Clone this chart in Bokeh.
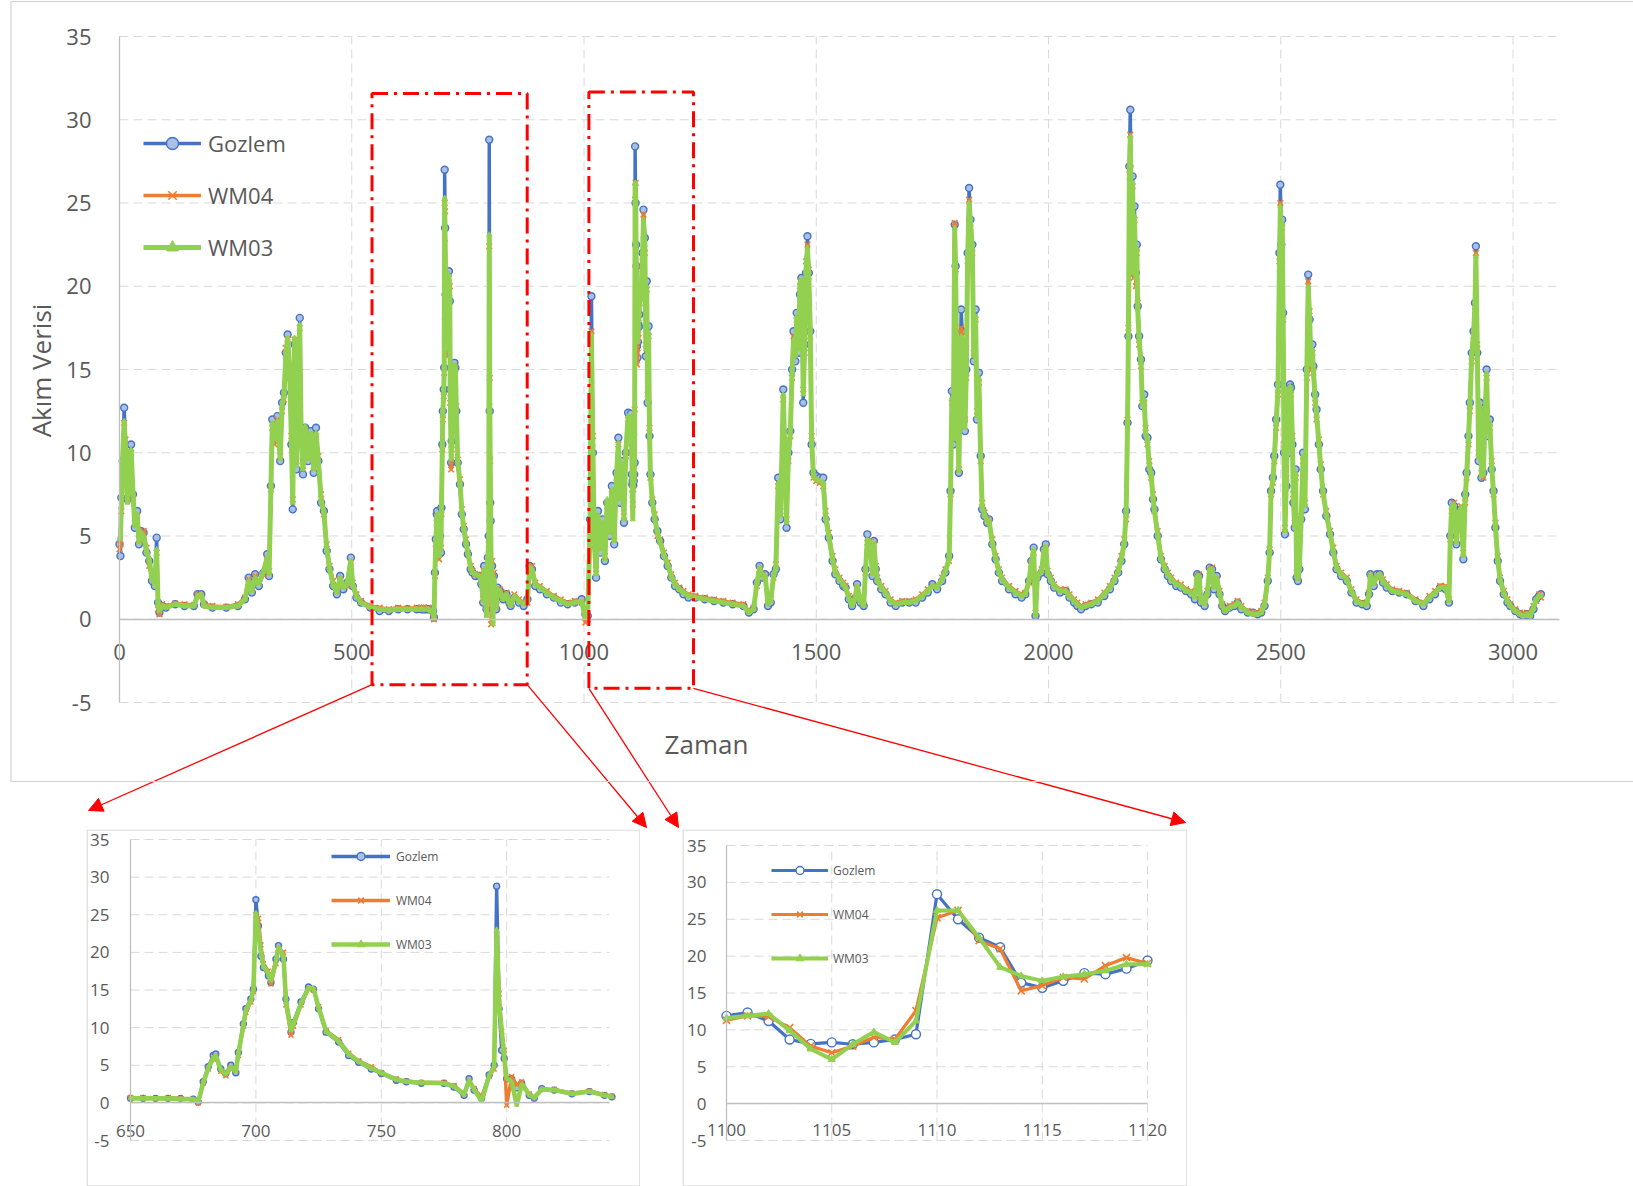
import math
from bokeh.plotting import figure
from bokeh.models import (Range1d, FixedTicker, Legend, LegendItem, Label, Arrow,
                          NormalHead, BoxAnnotation, PolyAnnotation, Spacer)
from bokeh.layouts import column, row
from bokeh.embed import file_html
from bokeh.resources import INLINE

# ---------------- data: main chart, segment 0-640 ----------------
seg1_x = [0, 2, 4, 7, 10, 13, 17, 21, 25, 29, 33, 38, 42, 46, 52, 58, 64, 70, 76, 80,
          83, 86, 92, 100, 120, 140, 160, 168, 176, 182, 200, 230, 255, 270, 278, 285, 292, 300, 310, 318,
          322, 326, 329, 334, 340, 346, 350, 354, 358, 362, 366, 370, 373, 377, 381, 385, 388, 391, 395, 400,
          406, 412, 418, 423, 428, 434, 440, 446, 452, 460, 468, 475, 482, 490, 498, 502, 510, 520, 540, 560,
          580, 600, 620, 640]
seg1_gozlem = [4.5, 3.8, 7.3, 9.5, 12.7, 10.5, 7.2, 9.8, 10.5, 7.5, 5.5, 6.5, 4.5, 5.3, 5.2, 4.0, 3.5, 2.3, 2.0, 4.9,
               1.0, 0.4, 0.8, 0.7, 0.9, 0.8, 0.8, 1.5, 1.5, 0.9, 0.7, 0.7, 0.8, 1.2, 2.5, 1.6, 2.7, 2.0, 2.8, 3.9,
               2.6, 8.0, 12.0, 11.0, 12.2, 9.5, 13.0, 13.6, 16.0, 17.1, 15.0, 10.5, 6.6, 16.5, 9.0, 14.5, 18.1, 11.0, 8.7, 11.5,
               9.5, 11.3, 8.8, 11.5, 9.5, 7.0, 6.5, 4.1, 3.0, 2.0, 1.5, 2.6, 1.8, 2.2, 3.7, 2.0, 1.3, 1.0, 0.7, 0.5,
               0.5, 0.6, 0.6, 0.6]
seg1_wm04 = [4.2, 4.5, 6.5, 9.0, 11.8, 10.8, 7.5, 9.2, 10.0, 7.3, 5.8, 6.2, 4.8, 5.0, 5.3, 4.3, 3.2, 2.6, 2.2, 4.0,
             0.6, 0.3, 0.9, 0.8, 0.95, 0.9, 0.85, 1.5, 1.4, 0.9, 0.8, 0.75, 0.9, 1.3, 2.4, 1.8, 2.6, 2.2, 2.7, 3.6,
             2.9, 7.8, 11.5, 10.5, 12.0, 9.8, 12.5, 13.2, 16.3, 16.8, 14.5, 11.0, 7.2, 16.8, 9.5, 15.0, 17.5, 11.5, 9.2, 11.3,
             10.0, 11.0, 9.2, 11.0, 9.8, 7.5, 6.3, 4.5, 3.2, 2.3, 1.7, 2.4, 2.0, 2.0, 3.4, 2.2, 1.5, 1.1, 0.8, 0.7,
             0.6, 0.7, 0.65, 0.7]
seg1_wm03 = [4.8, 5.0, 6.8, 9.8, 11.9, 10.3, 7.0, 9.6, 10.2, 7.6, 5.6, 6.3, 4.6, 5.2, 5.0, 4.1, 3.6, 2.4, 2.1, 4.2,
             0.9, 0.5, 0.8, 0.7, 0.9, 0.8, 0.8, 1.4, 1.5, 0.8, 0.7, 0.7, 0.8, 1.2, 2.3, 1.7, 2.5, 2.1, 2.9, 3.7,
             2.7, 7.9, 11.8, 10.8, 11.9, 9.6, 12.8, 13.4, 15.8, 16.9, 15.2, 10.8, 7.0, 16.9, 9.2, 14.8, 17.7, 11.2, 9.0, 11.6,
             9.6, 11.2, 9.0, 11.2, 9.6, 7.2, 6.4, 4.3, 3.1, 2.1, 1.6, 2.5, 1.9, 2.1, 3.5, 2.1, 1.4, 1.0, 0.7, 0.6,
             0.55, 0.6, 0.6, 0.6]

# ---------------- data: zoom window 650-842 (inset 1) ----------------
inset1_x = [650, 655, 660, 665, 670, 675, 677, 679, 681, 683, 684, 686, 688, 690, 692, 693, 695, 696, 698, 699,
            700, 701, 702, 703, 705, 706, 708, 709, 711, 712, 714, 715, 718, 721, 723, 725, 728, 733, 737, 741,
            746, 750, 756, 760, 766, 775, 779, 783, 785, 787, 790, 793, 795, 796, 797, 798, 799, 800, 802, 804,
            806, 809, 811, 814, 819, 826, 833, 839, 842]
inset1_gozlem = [0.6, 0.6, 0.6, 0.6, 0.6, 0.5, 0.1, 2.8, 4.8, 6.3, 6.5, 4.5, 3.9, 5.0, 4.0, 6.7, 10.5, 12.5, 13.8, 15.1,
                 27.0, 23.5, 19.5, 18.0, 16.9, 16.0, 19.1, 20.9, 19.1, 13.8, 9.4, 10.7, 13.4, 15.4, 15.1, 12.5, 9.4, 8.1, 6.3, 5.4,
                 4.5, 3.9, 3.0, 2.8, 2.6, 2.6, 2.1, 1.0, 3.2, 1.7, 0.6, 3.7, 5.0, 28.8, 12.5, 7.0, 5.9, 3.2, 3.2, 2.0,
                 2.6, 1.0, 0.6, 1.9, 1.7, 1.2, 1.5, 1.0, 0.8]
inset1_wm04 = [0.7, 0.7, 0.6, 0.7, 0.6, 0.4, 0.0, 2.6, 4.5, 5.8, 6.2, 4.2, 3.6, 4.6, 4.3, 6.3, 10.2, 12.0, 13.4, 14.8,
               25.0, 24.5, 21.0, 18.5, 17.5, 15.8, 18.5, 20.5, 20.0, 13.0, 9.0, 10.2, 13.0, 15.2, 15.0, 12.8, 9.6, 8.4, 6.6, 5.6,
               4.8, 4.0, 3.2, 2.9, 2.7, 2.7, 2.3, 1.2, 2.9, 1.9, 0.8, 3.5, 4.5, 22.4, 14.5, 9.5, 7.0, -0.3, 3.5, 2.4,
               2.8, 1.2, 0.7, 1.8, 1.8, 1.3, 1.6, 1.1, 0.9]
inset1_wm03 = [0.6, 0.6, 0.6, 0.6, 0.5, 0.5, 0.1, 2.7, 4.6, 6.0, 6.3, 4.4, 3.8, 4.8, 4.2, 6.5, 10.3, 12.3, 13.6, 15.0,
               25.3, 22.8, 20.0, 18.2, 17.2, 16.2, 18.8, 20.7, 19.5, 13.5, 9.6, 10.5, 13.2, 15.3, 15.2, 12.7, 9.5, 8.2, 6.5, 5.5,
               4.6, 4.0, 3.1, 2.8, 2.7, 2.6, 2.2, 1.1, 3.0, 1.8, 0.2, 3.6, 4.8, 23.1, 13.0, 9.8, 6.0, 3.3, 2.8, -0.3,
               2.5, 1.1, 0.7, 1.8, 1.7, 1.2, 1.5, 1.0, 0.8]

# ---------------- data: main chart, segment 850-1095 ----------------
seg2_x = [850, 860, 870, 878, 883, 888, 895, 905, 920, 935, 950, 965, 980, 995, 1003, 1008, 1013, 1016, 1019, 1022,
          1026, 1030, 1035, 1040, 1045, 1050, 1055, 1060, 1065, 1070, 1074, 1078, 1082, 1086, 1090, 1095]
seg2_gozlem = [1.3, 1.0, 0.8, 1.2, 3.2, 3.0, 2.0, 1.8, 1.5, 1.3, 1.0, 0.9, 1.0, 1.2, 0.3, 0.2, 6.0, 19.4, 10.0, 4.5,
               2.5, 6.5, 4.0, 6.0, 3.5, 7.0, 5.0, 8.0, 4.5, 8.8, 10.9, 7.0, 9.5, 5.8, 10.0, 12.4]
seg2_wm04 = [1.5, 1.2, 1.0, 1.0, 3.0, 3.2, 2.2, 2.0, 1.7, 1.4, 1.2, 1.0, 1.1, 1.0, -0.2, 0.0, 5.0, 17.3, 11.0, 5.0,
             3.0, 6.0, 4.5, 5.5, 3.8, 6.8, 5.5, 7.5, 5.0, 8.5, 10.5, 7.5, 9.0, 6.2, 9.8, 12.0]
seg2_wm03 = [1.4, 1.1, 0.9, 1.1, 3.1, 3.0, 2.1, 1.9, 1.6, 1.3, 1.1, 0.9, 1.0, 1.1, 0.1, 0.3, 5.5, 17.1, 10.5, 4.8,
             2.7, 6.3, 4.2, 5.8, 3.6, 7.2, 5.2, 7.8, 4.7, 8.6, 10.6, 7.2, 9.3, 6.0, 10.1, 12.2]

# ---------------- data: zoom window 1100-1120 (inset 2) ----------------
inset2_x = [1100, 1101, 1102, 1103, 1104, 1105, 1106, 1107, 1108, 1109, 1110,
            1111, 1112, 1113, 1114, 1115, 1116, 1117, 1118, 1119, 1120]
inset2_gozlem = [11.9, 12.35, 11.2, 8.7, 8.1, 8.3, 8.05, 8.3, 8.7, 9.4, 28.4,
                 25.0, 22.5, 21.2, 16.4, 15.7, 16.65, 17.7, 17.55, 18.3, 19.4]
inset2_wm04 = [11.3, 11.9, 11.8, 10.3, 7.8, 6.9, 7.8, 9.0, 8.7, 12.6, 25.2,
               26.2, 22.1, 21.0, 15.3, 16.0, 17.1, 16.9, 18.7, 19.8, 19.0]
inset2_wm03 = [11.6, 11.9, 12.2, 9.9, 7.4, 6.0, 8.05, 9.7, 8.3, 11.2, 26.2,
               26.2, 22.5, 18.5, 17.3, 16.65, 17.2, 17.55, 18.0, 18.9, 18.9]

# ---------------- data: main chart, segment 1123-3060 ----------------
seg3_x = [1123, 1126, 1128, 1131, 1133, 1135, 1137, 1139, 1141, 1143,
          1147, 1152, 1158, 1164, 1172, 1180, 1188, 1196, 1205, 1214,
          1225, 1240, 1260, 1280, 1300, 1320, 1343, 1355, 1365, 1372,
          1378, 1384, 1390, 1396, 1402, 1408, 1413, 1418, 1423, 1429,
          1433, 1436, 1440, 1444, 1448, 1451, 1455, 1458, 1462, 1465,
          1468, 1472, 1475, 1478, 1481, 1484, 1487, 1490, 1494, 1500,
          1508, 1515, 1520, 1527, 1535, 1541, 1550, 1558, 1563, 1570,
          1577, 1583, 1588, 1595, 1602, 1606, 1610, 1616, 1621, 1624,
          1628, 1631, 1640, 1649, 1660, 1671, 1685, 1700, 1714, 1728,
          1740, 1750, 1760, 1771, 1778, 1786, 1789, 1792, 1795, 1798,
          1800, 1803, 1807, 1810, 1812, 1814, 1817, 1820, 1823, 1826,
          1829, 1832, 1836, 1839, 1843, 1846, 1850, 1854, 1857, 1862,
          1868, 1872, 1879, 1886, 1893, 1900, 1915, 1929, 1942, 1950,
          1958, 1963, 1968, 1972, 1976, 1985, 1990, 1994, 1998, 2005,
          2012, 2025, 2037, 2045, 2055, 2062, 2070, 2080, 2092, 2106,
          2120, 2132, 2142, 2150, 2157, 2163, 2167, 2170, 2172, 2174,
          2176, 2178, 2181, 2183, 2185, 2188, 2190, 2192, 2195, 2199,
          2202, 2206, 2209, 2213, 2217, 2221, 2225, 2228, 2235, 2242,
          2250, 2257, 2264, 2275, 2285, 2296, 2307, 2315, 2320, 2324,
          2328, 2336, 2342, 2347, 2352, 2356, 2362, 2368, 2374, 2380,
          2390, 2400, 2407, 2415, 2429, 2440, 2450, 2458, 2465, 2472,
          2476, 2479, 2483, 2486, 2490, 2494, 2497, 2499, 2501, 2503,
          2505, 2507, 2509, 2512, 2515, 2518, 2520, 2522, 2525, 2527,
          2530, 2532, 2534, 2537, 2540, 2544, 2548, 2552, 2556, 2559,
          2562, 2565, 2568, 2570, 2574, 2577, 2582, 2586, 2591, 2598,
          2606, 2613, 2620, 2630, 2642, 2652, 2663, 2675, 2685, 2690,
          2693, 2700, 2707, 2713, 2720, 2728, 2740, 2755, 2771, 2790,
          2807, 2820, 2832, 2843, 2855, 2862, 2865, 2868, 2873, 2878,
          2883, 2888, 2893, 2897, 2900, 2904, 2907, 2911, 2915, 2918,
          2920, 2923, 2926, 2929, 2932, 2936, 2940, 2943, 2946, 2950,
          2954, 2958, 2962, 2967, 2972, 2980, 2988, 2994, 3005, 3015,
          3022, 3030, 3037, 3044, 3050, 3056, 3060]
seg3_gozlem = [20.0, 22.0, 24.6, 22.9, 15.8, 20.3, 13.0, 17.6, 11.0, 8.7,
               7.0, 6.0, 5.3, 4.7, 3.8, 3.2, 2.5, 2.0, 1.8, 1.5,
               1.3, 1.3, 1.2, 1.1, 1.0, 0.9, 0.8, 0.4, 0.6, 2.2,
               3.2, 2.5, 2.7, 0.8, 1.0, 2.7, 3.0, 8.5, 6.0, 13.8,
               9.0, 5.5, 10.0, 11.3, 15.0, 17.3, 15.5, 18.4, 16.0, 19.5,
               20.5, 13.0, 16.5, 20.8, 23.0, 20.8, 17.3, 10.5, 8.8, 8.6,
               8.5, 8.5, 6.0, 4.9, 3.5, 2.7, 2.3, 2.0, 1.9, 1.2,
               0.8, 1.2, 2.1, 1.0, 0.8, 3.0, 5.1, 4.5, 2.6, 4.7,
               3.0, 2.3, 1.8, 1.5, 1.0, 0.8, 1.0, 1.0, 1.0, 1.3,
               1.6, 2.1, 1.8, 2.3, 2.8, 3.8, 7.7, 13.7, 10.5, 23.7,
               21.2, 13.0, 8.8, 15.0, 18.6, 17.3, 12.0, 11.3, 15.0, 22.0,
               25.9, 24.0, 22.5, 15.5, 18.6, 12.0, 14.8, 9.8, 6.6, 6.2,
               5.8, 6.0, 4.5, 3.6, 2.8, 2.3, 1.8, 1.5, 1.3, 1.5,
               2.3, 3.5, 4.3, 0.2, 2.5, 2.8, 4.2, 4.5, 2.7, 2.3,
               1.9, 1.6, 1.7, 1.3, 1.0, 0.8, 0.6, 0.8, 0.9, 1.0,
               1.4, 1.8, 2.3, 2.8, 3.5, 4.5, 6.5, 11.8, 17.0, 27.2,
               30.6, 24.5, 26.6, 21.0, 24.8, 20.8, 22.5, 18.8, 17.0, 15.6,
               12.8, 13.5, 11.0, 10.9, 9.0, 8.8, 7.2, 6.6, 5.0, 3.6,
               3.0, 2.6, 2.3, 2.0, 1.9, 1.7, 1.5, 1.2, 2.7, 2.6,
               1.0, 0.8, 1.5, 3.1, 3.0, 1.8, 2.6, 1.5, 0.8, 0.5,
               0.7, 0.8, 1.0, 0.6, 0.4, 0.4, 0.3, 0.4, 0.8, 2.3,
               4.0, 7.7, 8.5, 9.8, 12.0, 14.1, 22.0, 26.1, 22.5, 24.0,
               18.4, 10.0, 5.1, 8.0, 13.9, 10.0, 14.1, 13.9, 10.5, 7.0,
               5.5, 9.0, 2.5, 2.3, 3.0, 6.0, 10.0, 6.6, 15.0, 20.7,
               18.0, 15.5, 16.5, 15.2, 13.5, 12.6, 10.5, 9.0, 7.7, 6.2,
               5.1, 4.0, 3.0, 2.6, 2.3, 1.6, 1.0, 0.9, 0.8, 1.5,
               2.7, 2.0, 2.7, 2.7, 2.2, 1.9, 1.7, 1.6, 1.5, 1.1,
               0.8, 1.2, 1.5, 1.9, 1.8, 1.0, 5.0, 7.0, 6.8, 4.5,
               6.5, 6.6, 3.6, 7.5, 8.8, 11.0, 13.0, 16.0, 17.3, 19.0,
               22.4, 16.0, 9.5, 13.0, 8.5, 8.8, 12.5, 15.0, 11.0, 12.0,
               9.0, 7.7, 5.5, 3.5, 2.3, 1.5, 1.0, 0.8, 0.5, 0.3,
               0.2, 0.3, 0.2, 0.6, 1.2, 1.4, 1.5]
seg3_wm04 = [19.5, 21.5, 24.3, 22.0, 16.5, 19.8, 13.5, 17.0, 11.5, 8.5,
             7.2, 6.3, 5.0, 4.8, 4.0, 3.4, 2.7, 2.2, 1.9, 1.7,
             1.5, 1.4, 1.3, 1.2, 1.1, 1.0, 0.9, 0.5, 0.7, 2.0,
             3.0, 2.7, 2.5, 1.0, 1.2, 2.5, 3.3, 8.0, 6.5, 13.2,
             9.5, 6.0, 9.5, 11.0, 14.5, 17.0, 16.0, 18.0, 16.5, 20.0,
             20.3, 13.8, 16.0, 21.5, 22.5, 21.0, 17.0, 11.0, 8.5, 8.3,
             8.2, 8.0, 6.5, 5.2, 3.8, 3.0, 2.5, 2.2, 2.0, 1.4,
             0.9, 1.3, 1.9, 1.2, 0.9, 2.8, 4.6, 4.7, 2.8, 4.5,
             3.2, 2.5, 2.0, 1.7, 1.2, 1.0, 1.1, 1.1, 1.2, 1.5,
             1.8, 2.0, 2.0, 2.5, 3.0, 3.5, 7.5, 13.0, 11.0, 23.8,
             21.0, 13.5, 9.0, 14.5, 17.5, 17.0, 12.5, 12.0, 14.5, 21.5,
             25.2, 23.5, 22.0, 16.0, 18.0, 12.5, 14.2, 9.5, 7.0, 6.4,
             6.0, 5.8, 4.8, 3.8, 3.0, 2.5, 2.0, 1.7, 1.5, 1.6,
             2.2, 3.3, 4.0, 0.4, 2.7, 3.0, 4.0, 4.3, 2.9, 2.5,
             2.1, 1.8, 1.8, 1.5, 1.2, 1.0, 0.8, 0.9, 1.0, 1.2,
             1.6, 2.0, 2.5, 3.0, 3.8, 4.8, 6.0, 12.0, 17.5, 27.0,
             29.1, 25.0, 26.0, 20.5, 24.0, 20.0, 22.0, 19.0, 16.5, 15.2,
             13.0, 13.0, 11.5, 10.5, 9.5, 8.5, 7.5, 6.5, 5.3, 3.8,
             3.2, 2.8, 2.5, 2.2, 2.1, 1.8, 1.7, 1.4, 2.5, 2.7,
             1.2, 1.0, 1.7, 2.9, 3.1, 2.0, 2.4, 1.7, 0.9, 0.6,
             0.8, 0.9, 1.1, 0.8, 0.5, 0.4, 0.4, 0.5, 1.0, 2.5,
             4.2, 7.5, 8.2, 9.5, 11.5, 13.5, 21.5, 25.0, 23.0, 23.5,
             18.0, 10.5, 5.5, 8.5, 13.5, 10.5, 13.8, 13.5, 11.0, 7.5,
             5.8, 8.5, 2.8, 2.5, 3.2, 6.2, 9.5, 7.0, 14.5, 20.3,
             18.5, 15.0, 16.0, 14.8, 13.0, 12.0, 10.8, 9.3, 7.5, 6.5,
             5.3, 4.3, 3.2, 2.8, 2.5, 1.8, 1.2, 1.0, 1.0, 1.6,
             2.6, 2.2, 2.5, 2.6, 2.4, 2.1, 1.8, 1.7, 1.6, 1.2,
             1.0, 1.4, 1.7, 2.0, 2.0, 1.2, 4.8, 6.5, 7.0, 4.8,
             6.3, 6.8, 4.0, 7.0, 8.5, 10.5, 12.5, 15.5, 17.0, 18.5,
             22.0, 16.5, 10.0, 12.5, 8.8, 8.5, 12.0, 14.5, 11.5, 11.5,
             9.5, 7.5, 5.8, 3.8, 2.5, 1.7, 1.2, 0.9, 0.6, 0.4,
             0.3, 0.4, 0.3, 0.8, 1.1, 1.5, 1.3]
seg3_wm03 = [19.8, 21.8, 24.0, 22.5, 16.2, 20.0, 13.2, 17.2, 11.2, 8.6,
             7.1, 6.1, 5.2, 4.6, 3.9, 3.3, 2.6, 2.1, 1.8, 1.6,
             1.4, 1.3, 1.2, 1.1, 1.0, 0.9, 0.8, 0.4, 0.6, 2.1,
             3.1, 2.6, 2.6, 0.9, 1.1, 2.6, 3.1, 8.2, 6.2, 13.5,
             9.2, 5.8, 9.8, 11.2, 14.8, 16.8, 15.8, 18.2, 16.2, 20.2,
             20.4, 13.5, 16.3, 21.0, 22.3, 20.5, 17.5, 10.8, 8.6, 8.4,
             8.3, 8.2, 6.2, 5.0, 3.6, 2.8, 2.4, 2.1, 1.9, 1.3,
             0.8, 1.2, 2.0, 1.1, 0.8, 2.9, 4.8, 4.6, 2.7, 4.6,
             3.1, 2.4, 1.9, 1.6, 1.1, 0.9, 1.0, 1.0, 1.1, 1.4,
             1.7, 2.0, 1.9, 2.4, 2.9, 3.6, 7.6, 13.3, 10.8, 23.5,
             20.8, 13.2, 8.9, 14.8, 17.0, 16.8, 12.2, 11.5, 14.8, 21.8,
             25.0, 23.8, 22.2, 15.8, 18.2, 12.2, 14.5, 9.6, 6.8, 6.3,
             5.9, 5.9, 4.6, 3.7, 2.9, 2.4, 1.9, 1.6, 1.4, 1.5,
             2.3, 3.4, 4.2, 0.2, 2.6, 2.9, 4.1, 4.4, 2.8, 2.4,
             2.0, 1.7, 1.7, 1.4, 1.1, 0.9, 0.7, 0.8, 0.9, 1.1,
             1.5, 1.9, 2.4, 2.9, 3.6, 4.6, 6.3, 11.5, 17.2, 26.5,
             29.0, 24.8, 26.2, 20.8, 24.2, 20.5, 22.3, 18.6, 16.8, 15.4,
             12.9, 13.2, 11.2, 10.7, 9.2, 8.6, 7.3, 6.5, 5.1, 3.7,
             3.1, 2.7, 2.4, 2.1, 2.0, 1.7, 1.6, 1.3, 2.6, 2.6,
             1.1, 0.9, 1.6, 3.0, 3.0, 1.9, 2.5, 1.6, 0.8, 0.5,
             0.7, 0.8, 1.0, 0.7, 0.4, 0.3, 0.3, 0.4, 0.9, 2.4,
             4.1, 7.6, 8.4, 9.6, 11.8, 13.8, 21.0, 24.8, 22.8, 23.8,
             18.2, 10.2, 5.3, 8.2, 13.7, 10.2, 14.0, 13.7, 10.8, 7.2,
             5.6, 8.8, 2.6, 2.4, 3.1, 6.1, 9.8, 6.8, 14.8, 20.0,
             18.2, 15.3, 16.2, 15.0, 13.2, 12.3, 10.6, 9.1, 7.6, 6.3,
             5.2, 4.1, 3.1, 2.7, 2.4, 1.7, 1.1, 0.9, 0.9, 1.5,
             2.7, 2.1, 2.6, 2.7, 2.3, 2.0, 1.7, 1.6, 1.5, 1.1,
             0.9, 1.3, 1.6, 1.9, 1.9, 1.1, 4.9, 6.8, 6.9, 4.6,
             6.4, 6.7, 3.8, 7.3, 8.6, 10.8, 12.8, 15.8, 17.2, 18.8,
             21.8, 16.2, 9.7, 12.8, 8.6, 8.7, 12.3, 14.8, 11.2, 11.8,
             9.2, 7.6, 5.6, 3.6, 2.4, 1.6, 1.1, 0.8, 0.5, 0.3,
             0.2, 0.3, 0.2, 0.7, 1.2, 1.4, 1.4]

series_names = ["Gozlem", "WM04", "WM03"]
main_xticks = [0, 500, 1000, 1500, 2000, 2500, 3000]
inset1_xticks = [650, 700, 750, 800]
inset2_xticks = [1100, 1105, 1110, 1115, 1120]
yticks = [-5, 0, 5, 10, 15, 20, 25, 30, 35]

for grp in [(seg1_x, seg1_gozlem, seg1_wm04, seg1_wm03), (seg2_x, seg2_gozlem, seg2_wm04, seg2_wm03),
            (seg3_x, seg3_gozlem, seg3_wm04, seg3_wm03), (inset1_x, inset1_gozlem, inset1_wm04, inset1_wm03),
            (inset2_x, inset2_gozlem, inset2_wm04, inset2_wm03)]:
    assert len(set(len(a) for a in grp)) == 1, [len(a) for a in grp]

main_x = seg1_x + inset1_x + seg2_x + inset2_x + seg3_x
main_gozlem = seg1_gozlem + inset1_gozlem + seg2_gozlem + inset2_gozlem + seg3_gozlem
main_wm04 = seg1_wm04 + inset1_wm04 + seg2_wm04 + inset2_wm04 + seg3_wm04
main_wm03 = seg1_wm03 + inset1_wm03 + seg2_wm03 + inset2_wm03 + seg3_wm03

# ---------------- style ----------------
C_G, C_W4, C_W3 = "#4472C4", "#ED7D31", "#92D050"
FONT = "Open Sans"
TXT = "#595959"
GRID = "#D9D9D9"
AXIS = "#BFBFBF"
RED = "#FF0000"

# plot-region spec: canvas width, height, region borders l, r, t, b, x span, y span
MAIN = (1633, 829, 119, 74, 36, 127, (0, 3100), (-5, 35))
INS1 = (554, 357, 44, 31, 10, 46, (650, 841), (-5, 35))
INS2 = (505, 357, 44, 40, 16, 46, (1100, 1120), (-5, 35))


def px2data(spec, px, py):
    w, h, bl, br, bt, bb, (x0, x1), (y0, y1) = spec
    return (x0 + (px - bl) / (w - bl - br) * (x1 - x0),
            y1 - (py - bt) / (h - bt - bb) * (y1 - y0))


def make_fig(spec, xticks, tick_size, xstand, ystand):
    w, h, bl, br, bt, bb, xr, yr = spec
    cx0, cy1 = px2data(spec, 0, 0)
    cx1, cy0 = px2data(spec, w, h)
    p = figure(width=w, height=h, x_range=Range1d(cx0, cx1), y_range=Range1d(cy0, cy1),
               output_backend="svg", toolbar_location=None, title=None,
               min_border_left=0, min_border_right=0, min_border_top=0, min_border_bottom=0)
    p.outline_line_color = None
    p.background_fill_color = "white"
    p.border_fill_color = "white"
    p.xgrid.visible = False
    p.ygrid.visible = False
    n = len(xticks)
    p.segment(x0=xticks, y0=[yr[0]] * n, x1=xticks, y1=[yr[1]] * n, line_color=GRID,
              line_dash="9 5", line_width=1, level="underlay")
    m = len(yticks)
    p.segment(x0=[xr[0]] * m, y0=yticks, x1=[xr[1]] * m, y1=yticks, line_color=GRID,
              line_dash="9 5", line_width=1, level="underlay")
    for ax in (p.xaxis[0], p.yaxis[0]):
        ax.major_tick_line_color = None
        ax.minor_tick_line_color = None
        ax.axis_line_color = AXIS
        ax.axis_line_width = 1.3
        ax.major_label_text_font = FONT
        ax.major_label_text_font_size = f"{tick_size}px"
        ax.major_label_text_color = TXT
    xa, ya = p.xaxis[0], p.yaxis[0]
    xa.ticker = FixedTicker(ticks=xticks)
    ya.ticker = FixedTicker(ticks=yticks)
    xa.fixed_location = 0
    ya.fixed_location = xr[0]
    xa.bounds = xr
    ya.bounds = yr
    xa.major_label_standoff = xstand
    ya.major_label_standoff = ystand
    ya.major_label_overrides = {t: str(t) for t in yticks}
    return p


def border(p, spec, pts):
    xs, ys = zip(*[px2data(spec, a, b) for a, b in pts])
    p.add_layout(PolyAnnotation(xs=list(xs), ys=list(ys), fill_alpha=0, fill_color=None,
                                line_color="#D0D0D0", line_width=1.2, line_alpha=1))


def draw_series(p, x, g, w4, w3, lw, ms, hollow, extra=0.6):
    rg = [p.line(x, g, line_color=C_G, line_width=lw),
          p.scatter(x, g, marker="circle", size=ms, line_color=C_G,
                    fill_color="white" if hollow else "#A9BFE6", line_width=1.4)]
    r4 = [p.line(x, w4, line_color=C_W4, line_width=lw),
          p.scatter(x, w4, marker="x", size=ms + 1, line_color=C_W4, line_width=1.6)]
    r3 = [p.line(x, w3, line_color=C_W3, line_width=lw + extra),
          p.scatter(x, w3, marker="triangle", size=ms - 2, line_color=C_W3, fill_color=C_W3)]
    return list(zip(series_names, [rg, r4, r3]))


def add_legend(p, items, loc, fs, gw, gh, spacing, standoff):
    lg = Legend(items=[LegendItem(label=l, renderers=r) for l, r in items], location=loc,
                label_text_font=FONT, label_text_font_size=f"{fs}px", label_text_color=TXT,
                glyph_width=gw, glyph_height=gh, label_height=gh, spacing=spacing,
                label_standoff=standoff, padding=0, margin=0, border_line_color=None,
                background_fill_alpha=0)
    p.add_layout(lg)


# ---------------- main chart ----------------
main = make_fig(MAIN, main_xticks, 22, 19, 22)
items = draw_series(main, main_x, main_gozlem, main_wm04, main_wm03, 3.5, 7, False, extra=1.5)
add_legend(main, items, (143, 567), 22, 58, 30, 22, 7)

zx, zy = px2data(MAIN, 706, 743)
main.add_layout(Label(x=zx, y=zy, text="Zaman", text_align="center", text_baseline="middle",
                      text_font=FONT, text_font_size="26px", text_color=TXT))
ax_, ay_ = px2data(MAIN, 40, 370)
main.add_layout(Label(x=ax_, y=ay_, text="Akım Verisi", angle=math.pi / 2, text_align="center",
                      text_baseline="middle", text_font=FONT, text_font_size="26px", text_color=TXT))

# zoom windows
zoom_boxes = [(543.6, 877.7, -3.93, 31.57), (1010.5, 1235.7, -4.15, 31.67)]
for l, r, b, t in zoom_boxes:
    main.add_layout(BoxAnnotation(left=l, right=r, bottom=b, top=t, fill_alpha=0, fill_color=None,
                                  line_color=RED, line_alpha=1, line_width=3, line_dash="16 6 3 6"))
arrow_ends_px = [(88, 810), (646, 827), (678, 827), (1185, 822)]
arrow_starts = [(zoom_boxes[0][0], zoom_boxes[0][2]), (zoom_boxes[0][1], zoom_boxes[0][2]),
                (zoom_boxes[1][0], zoom_boxes[1][2]), (zoom_boxes[1][1], zoom_boxes[1][2])]
for (sx, sy), (ex, ey) in zip(arrow_starts, arrow_ends_px):
    dx, dy = px2data(MAIN, ex, ey)
    main.add_layout(Arrow(x_start=sx, y_start=sy, x_end=dx, y_end=dy, line_color=RED, line_width=1.3,
                          end=NormalHead(size=14, fill_color=RED, line_color=RED)))

border(main, MAIN, [(10.5, 1), (1700, 1), (1700, 781), (10.5, 781)])

# ---------------- inset 1 ----------------
ins1 = make_fig(INS1, inset1_xticks, 17, 16, 15)
it1 = draw_series(ins1, inset1_x, inset1_gozlem, inset1_wm04, inset1_wm03, 3.4, 6, False, extra=1.2)
add_legend(ins1, it1, (245, 232), 12, 59, 20, 24, 6)
border(ins1, INS1, [(0.5, 0.5), (553.5, 0.5), (553.5, 356.5), (0.5, 356.5)])

# ---------------- inset 2 ----------------
ins2 = make_fig(INS2, inset2_xticks, 17, 14, 14)
it2 = draw_series(ins2, inset2_x, inset2_gozlem, inset2_wm04, inset2_wm03, 3.2, 9, True, extra=0.8)
add_legend(ins2, it2, (89, 218), 12, 57, 20, 24, 5)
border(ins2, INS2, [(0.5, 0.5), (504.5, 0.5), (504.5, 356.5), (0.5, 356.5)])

layout = column(main, row(Spacer(width=86, height=357), ins1, Spacer(width=42, height=357), ins2))

open("out.html", "w").write(file_html(layout, INLINE))
